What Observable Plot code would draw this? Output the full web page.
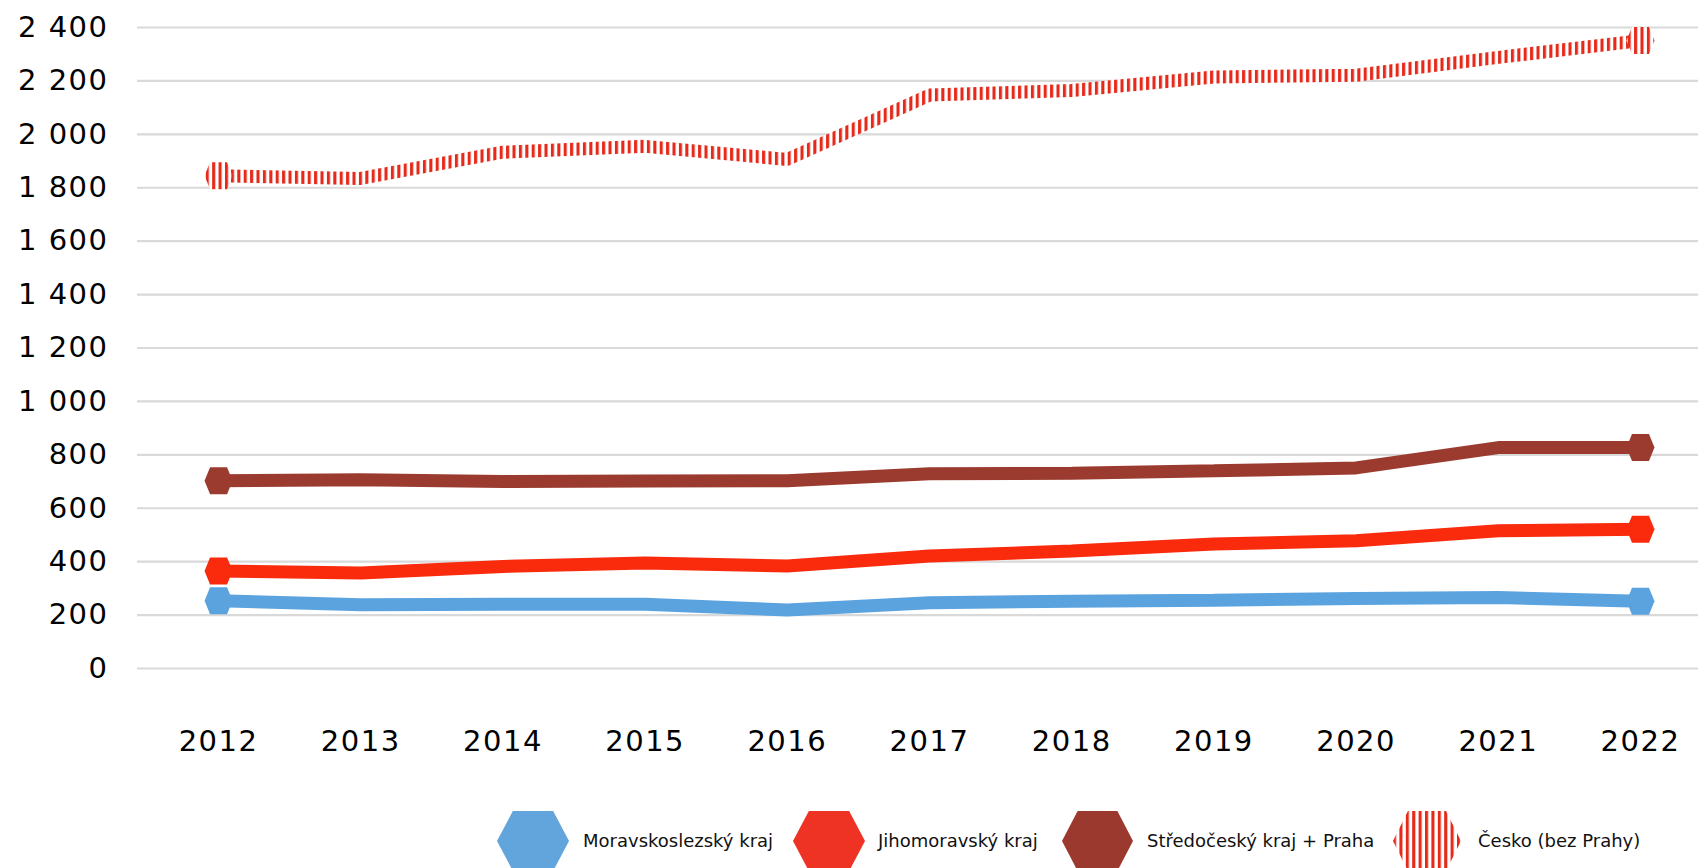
<!DOCTYPE html>
<html><head><meta charset="utf-8">
<script src="https://cdn.jsdelivr.net/npm/d3@7"></script>
<script src="https://cdn.jsdelivr.net/npm/@observablehq/plot@0.6"></script>
<style>
html,body{margin:0;padding:0;background:#fff;overflow:hidden;width:1698px;height:868px}
#chart svg{display:block}
#legend{position:relative;width:1698px;height:68px;font-family:"DejaVu Sans",sans-serif;font-size:18px;color:#111}
#legend .sw{position:absolute;top:11px}
#legend .lb{position:absolute;top:30px;line-height:22px;white-space:nowrap}
</style></head><body>
<svg width="0" height="0" style="position:absolute">
  <defs>
    <pattern id="hatch" patternUnits="userSpaceOnUse" width="6.4" height="20">
      <rect width="6.4" height="20" fill="#ffffff"/>
      <rect x="0" width="3.1" height="20" fill="#e62a1a"/>
    </pattern>
  </defs>
</svg>
<div id="chart"></div>
<div id="legend"></div>
<script>
// ---- data ----
const years = [2012, 2013, 2014, 2015, 2016, 2017, 2018, 2019, 2020, 2021, 2022];
const moravskoslezsky = [254, 239, 241, 241, 219, 246, 252, 256, 262, 266, 252];
const jihomoravsky   = [365, 358, 382, 395, 384, 421, 440, 466, 478, 516, 521];
const stredocesky    = [703, 707, 700, 702, 703, 729, 731, 740, 751, 827, 827];
const cesko          = [1845, 1835, 1933, 1955, 1906, 2147, 2164, 2215, 2221, 2288, 2351];
const seriesNames = ["Moravskoslezský kraj", "Jihomoravský kraj", "Středočeský kraj + Praha", "Česko (bez Prahy)"];
const yTicks = [0, 200, 400, 600, 800, 1000, 1200, 1400, 1600, 1800, 2000, 2200, 2400];

// ---- styling ----
const lineColors = ["#5ba3df", "#fa2a0c", "#9b3b2f", "url(#hatch)"];
const legendColors = ["#62a5dc", "#ee3224", "#9b392e", "url(#hatch)"];
const seriesValues = [moravskoslezsky, jihomoravsky, stredocesky, cesko];

const series = seriesValues.map((vals, i) => ({
  name: seriesNames[i],
  color: lineColors[i],
  rows: years.map((y, j) => ({year: y, value: vals[j]}))
}));

const hexSymbol = {
  draw(ctx) {
    const w = 14, t = 8.5, h = 13.5;
    ctx.moveTo(-w, 0); ctx.lineTo(-t, -h); ctx.lineTo(t, -h);
    ctx.lineTo(w, 0); ctx.lineTo(t, h); ctx.lineTo(-t, h); ctx.closePath();
  }
};

const fmt = d => d3.format(",")(d).replace(/,/g, "\u00a0");

const marks = [
  Plot.gridY(yTicks, {stroke: "#d9d9d9", strokeOpacity: 1, strokeWidth: 2.2}),
  Plot.axisY(yTicks, {tickSize: 0, tickPadding: 29, tickFormat: fmt, fontSize: 29, fill: "#000", label: null, style: {letterSpacing: "2px"}}),
  Plot.axisX(years, {tickSize: 0, tickPadding: 62, tickFormat: d => String(d), fontSize: 29, fill: "#000", label: null})
];
for (const s of series) {
  marks.push(Plot.line(s.rows, {x: "year", y: "value", stroke: s.color, strokeWidth: 13, strokeLinejoin: "miter", strokeLinecap: "butt"}));
  marks.push(Plot.dot([s.rows[0], s.rows[s.rows.length - 1]], {x: "year", y: "value", fill: s.color, stroke: "none", symbol: hexSymbol, r: 14}));
}

const chart = Plot.plot({
  width: 1698,
  height: 800,
  marginTop: 27,
  marginBottom: 132,
  marginLeft: 137,
  marginRight: 0,
  style: {fontFamily: "DejaVu Sans, sans-serif", background: "#fff", letterSpacing: "1.5px"},
  x: {type: "linear", domain: [2011.43, 2022.408], axis: null},
  y: {domain: [0, 2400], axis: null},
  marks
});
document.getElementById("chart").appendChild(chart);

// ---- legend ----
const legendSwatchX = [497, 793, 1062, 1393];
const legendSwatchW = [72, 72, 71, 68];
const legendLabelX = [583, 878, 1147, 1478];
const legend = document.getElementById("legend");
seriesNames.forEach((name, i) => {
  const w = legendSwatchW[i], h = 60, t = w * 0.22;
  const ns = "http://www.w3.org/2000/svg";
  const svg = document.createElementNS(ns, "svg");
  svg.setAttribute("class", "sw");
  svg.setAttribute("width", w);
  svg.setAttribute("height", h);
  svg.style.left = legendSwatchX[i] + "px";
  const p = document.createElementNS(ns, "polygon");
  p.setAttribute("points", `0,${h/2} ${t},0 ${w-t},0 ${w},${h/2} ${w-t},${h} ${t},${h}`);
  p.setAttribute("fill", legendColors[i]);
  svg.appendChild(p);
  legend.appendChild(svg);
  const lb = document.createElement("span");
  lb.className = "lb";
  lb.style.left = legendLabelX[i] + "px";
  lb.textContent = name;
  legend.appendChild(lb);
});
</script>
</body></html>
